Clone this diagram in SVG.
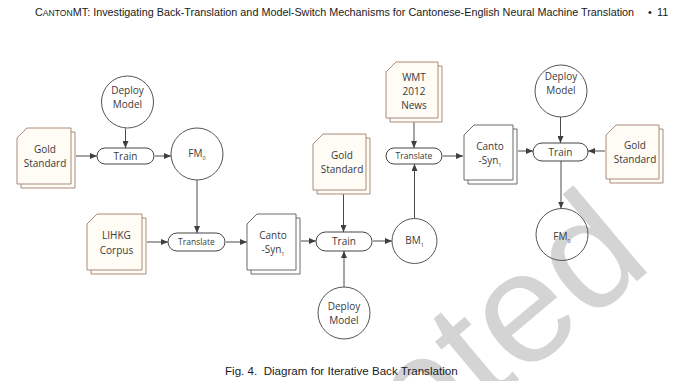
<svg xmlns="http://www.w3.org/2000/svg" width="680" height="381" viewBox="0 0 680 381">
<defs>
<marker id="ah" markerUnits="userSpaceOnUse" markerWidth="7" markerHeight="6" refX="7" refY="3" orient="auto">
<path d="M0,0 L7,3 L0,6 Z" fill="#3f3f3f"/>
</marker>
<style>
.hdr{font-family:"Liberation Sans",Arial,sans-serif;font-size:10.8px;fill:#1a1a1a}
.cap{font-family:"Liberation Sans",Arial,sans-serif;font-size:11.6px;fill:#1a1a1a}
.wm{font-family:"Liberation Sans",Arial,sans-serif;font-size:158px;fill:#d4d4d4}
.t{font-family:"Open Sans","Noto Sans",sans-serif;font-size:10px;fill:#3a3a3a;text-anchor:middle}
.ts{font-family:"Open Sans","Noto Sans",sans-serif;font-size:8.5px;fill:#3a3a3a;text-anchor:middle}
.sub{font-size:5.5px}
.circ{fill:none;stroke:#555;stroke-width:1}
.pill{fill:#fff;stroke:#444;stroke-width:1}
.docb{fill:#fffbf5;stroke:#a98a7a;stroke-width:1}
.docg{fill:#fff;stroke:#6a6a6a;stroke-width:1}
.con path{fill:none;stroke:#4a4a4a;stroke-width:1;marker-end:url(#ah)}
</style>
</defs>
<rect width="680" height="381" fill="#fff"/>
<text class="wm" text-anchor="end" transform="translate(655,266) rotate(-40)">Accepted</text>
<text class="hdr" x="35" y="16">C<tspan font-size="8.6">ANTON</tspan>MT: Investigating Back-Translation and Model-Switch Mechanisms for Cantonese-English Neural Machine Translation</text>
<text class="hdr" x="648" y="16">•</text>
<text class="hdr" x="657" y="16">11</text>
<g class="con">
<path d="M76,156 H97"/>
<path d="M125.5,128.5 V148"/>
<path d="M155,156 H171"/>
<path d="M197,180 V233"/>
<path d="M147,242 H168"/>
<path d="M226,242 H247"/>
<path d="M301,241 H316"/>
<path d="M343.5,194 V232"/>
<path d="M344,287 V251"/>
<path d="M373,241 H392"/>
<path d="M414.5,218.5 V164"/>
<path d="M414,122 V148"/>
<path d="M443,156 H463"/>
<path d="M518,151 H533"/>
<path d="M560.5,117 V143"/>
<path d="M605,151 H588"/>
<path d="M561,161 V208.5"/>
</g>
<g id="deploy1">
<circle class="circ" cx="127.5" cy="102" r="26"/>
<text class="t" x="127.5" y="94">Deploy</text>
<text class="t" x="127.5" y="108">Model</text>
</g>
<g id="gold1">
<path class="docb" d="M31,132 H75 V188 H21 V142 Z"/>
<path class="docb" d="M27,128 H71 V184 H17 V138 Z"/>
<text class="t" x="45" y="153">Gold</text>
<text class="t" x="45" y="167">Standard</text>
</g>
<g id="train1">
<rect class="pill" x="97" y="148" width="57" height="16" rx="8"/>
<text class="t" x="125.5" y="159.5">Train</text>
</g>
<g id="fm0a">
<circle class="circ" cx="197" cy="154" r="26"/>
<text class="t" x="197" y="157">FM<tspan class="sub" dy="3">0</tspan></text>
</g>
<g id="lihkg">
<path class="docb" d="M101,218 H146 V274 H91 V228 Z"/>
<path class="docb" d="M97,214 H142 V270 H87 V224 Z"/>
<text class="t" x="116.5" y="238.5">LIHKG</text>
<text class="t" x="116.5" y="253.5">Corpus</text>
</g>
<g id="translate1">
<rect class="pill" x="168" y="233" width="57" height="18" rx="9"/>
<text class="ts" x="196.5" y="245">Translate</text>
</g>
<g id="canto1">
<path class="docg" d="M261,218 H300 V274 H251 V228 Z"/>
<path class="docg" d="M257,214 H296 V270 H247 V224 Z"/>
<text class="t" x="273" y="238.5">Canto</text>
<text class="t" x="273" y="253">-Syn<tspan class="sub" dy="3">1</tspan></text>
</g>
<g id="gold2">
<path class="docb" d="M327,138 H370 V194 H317 V148 Z"/>
<path class="docb" d="M323,134 H366 V190 H313 V144 Z"/>
<text class="t" x="342" y="159">Gold</text>
<text class="t" x="342" y="173">Standard</text>
</g>
<g id="train2">
<rect class="pill" x="316" y="232" width="56" height="19" rx="9.5"/>
<text class="t" x="344" y="245">Train</text>
</g>
<g id="deploy2">
<circle class="circ" cx="344" cy="313" r="26"/>
<text class="t" x="344" y="310">Deploy</text>
<text class="t" x="344" y="324">Model</text>
</g>
<g id="bm1">
<circle class="circ" cx="414.5" cy="241" r="22.5"/>
<text class="t" x="414.5" y="243.5">BM<tspan class="sub" dy="3">1</tspan></text>
</g>
<g id="wmt">
<path class="docb" d="M400,66 H442 V122 H390 V76 Z"/>
<path class="docb" d="M396,62 H438 V118 H386 V72 Z"/>
<text class="t" x="414" y="80.5">WMT</text>
<text class="t" x="414" y="94.5">2012</text>
<text class="t" x="414" y="108.5">News</text>
</g>
<g id="translate2">
<rect class="pill" x="386" y="148" width="56" height="16" rx="8"/>
<text class="ts" x="414" y="159">Translate</text>
</g>
<g id="canto2">
<path class="docg" d="M478,129 H517 V184 H468 V139 Z"/>
<path class="docg" d="M474,125 H513 V180 H464 V135 Z"/>
<text class="t" x="490" y="150">Canto</text>
<text class="t" x="490" y="164">-Syn<tspan class="sub" dy="3">1</tspan></text>
</g>
<g id="deploy3">
<circle class="circ" cx="561" cy="91" r="26"/>
<text class="t" x="561" y="80">Deploy</text>
<text class="t" x="561" y="93.5">Model</text>
</g>
<g id="train3">
<rect class="pill" x="533" y="143" width="55" height="18" rx="9"/>
<text class="t" x="560.5" y="156">Train</text>
</g>
<g id="gold3">
<path class="docb" d="M620,129 H663 V183 H610 V139 Z"/>
<path class="docb" d="M616,125 H659 V179 H606 V135 Z"/>
<text class="t" x="635" y="149">Gold</text>
<text class="t" x="635" y="163">Standard</text>
</g>
<g id="fm0b">
<circle class="circ" cx="562" cy="234.5" r="26"/>
<text class="t" x="562" y="239.5">FM<tspan class="sub" dy="3">0</tspan></text>
</g>
<text class="cap" x="225" y="375" xml:space="preserve">Fig. 4.  Diagram for Iterative Back Translation</text>
</svg>
